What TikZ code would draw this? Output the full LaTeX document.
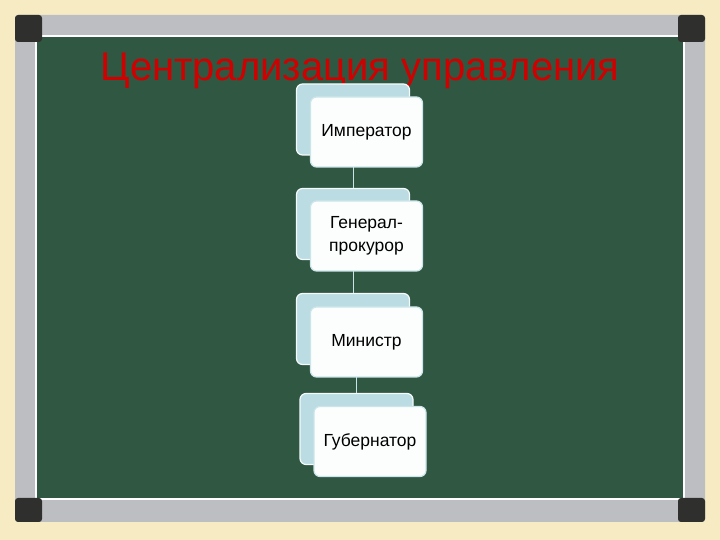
\documentclass[tikz,border=0pt]{standalone}
\usepackage{fontspec}
\setmainfont{Liberation Sans}
\usetikzlibrary{positioning}

\definecolor{paper}{HTML}{F7EBC3}
\definecolor{rim}{HTML}{BDBEC1}
\definecolor{rimcorner}{HTML}{2F302E}
\definecolor{board}{HTML}{2F5741}
\definecolor{titlered}{HTML}{D10000}
\definecolor{backblue}{HTML}{BBDCE2}
\definecolor{frontedge}{HTML}{CBE5EA}
\definecolor{linkcol}{HTML}{C9E3E8}

\tikzset{
  backbox/.style={draw=white!85!backblue, line width=1.2pt, fill=backblue,
    rounded corners=6pt, minimum width=113pt, minimum height=71pt},
  frontbox/.style={draw=frontedge, line width=1.2pt, fill=white!96!backblue,
    rounded corners=6pt, minimum width=112pt, minimum height=70pt,
    align=center, font=\fontsize{17.5}{23}\selectfont, text=black},
  link/.style={draw=linkcol, line width=1pt},
  corner/.style={fill=rimcorner, rounded corners=3pt}
}

\begin{document}
\begin{tikzpicture}[x=1pt,y=1pt]
%%%
% board and frame
%%%
\fill[paper] (0,0) rectangle (720,540);
\useasboundingbox (0,0) rectangle (720,540);
\fill[rim, rounded corners=4pt] (15,18) rectangle (705,525);
\fill[white] (35,40) rectangle (685,505);
\fill[board] (37,42) rectangle (683,503);
\fill[corner] (15,498) rectangle (42,525);
\fill[corner] (678,498) rectangle (705,525);
\fill[corner] (15,18) rectangle (42,42);
\fill[corner] (678,18) rectangle (705,42);

\node[text=titlered, font=\fontsize{40}{44}\selectfont] (title) at (360,469) {Централизация управления};

%%%
% chain of posts
%%%
\node[backbox] (b1) at (353,420.5) {};
\node[backbox] (b2) at (353,316) {};
\node[backbox] (b3) at (353,211) {};
\node[backbox] (b4) at (356.5,111) {};

\draw[link] (b1.south) -- (b2.north);
\draw[link] (b2.south) -- (b3.north);
\draw[link] (b3.south) -- ++(0,-11) -| (b4.north);

\node[frontbox] (imp) at (366.5,408) {Император};
\node[frontbox] (gen) at (366.5,304) {Генерал-\\прокурор};
\node[frontbox] (min) at (366.5,198) {Министр};
\node[frontbox] (gub) at (370,98.5) {Губернатор};
\end{tikzpicture}
\end{document}
